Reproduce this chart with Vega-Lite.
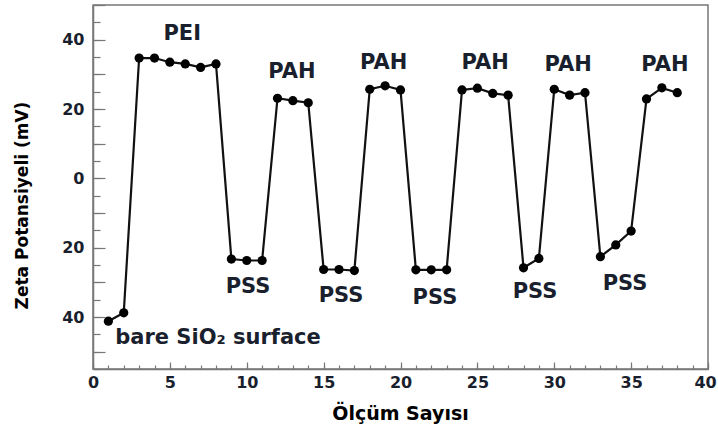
{
  "$schema": "https://vega.github.io/schema/vega-lite/v6.json",
  "width": 615,
  "height": 364,
  "autosize": {"type": "none"},
  "padding": {"left": 93, "top": 5, "right": 10, "bottom": 63},
  "background": "white",
  "config": {
    "view": {"stroke": "#777777", "strokeWidth": 1.5},
    "axis": {
      "grid": false,
      "domainColor": "#777777",
      "domainWidth": 1.5,
      "tickColor": "#777777",
      "tickWidth": 1.2,
      "labelFont": "DejaVu Sans",
      "labelFontWeight": "bold",
      "labelFontSize": 16,
      "labelColor": "#1a1f2e",
      "labelOverlap": false,
      "labelFlush": false,
      "labelBound": false,
      "titleFont": "DejaVu Sans",
      "titleFontWeight": "bold",
      "titleColor": "#000000"
    }
  },
  "datasets": {
    "zeta": [
      {"n": 1, "zeta": -41.2}, {"n": 2, "zeta": -38.8}, {"n": 3, "zeta": 34.7},
      {"n": 4, "zeta": 34.7}, {"n": 5, "zeta": 33.5}, {"n": 6, "zeta": 33.0},
      {"n": 7, "zeta": 32.0}, {"n": 8, "zeta": 33.0}, {"n": 9, "zeta": -23.3},
      {"n": 10, "zeta": -23.7}, {"n": 11, "zeta": -23.7}, {"n": 12, "zeta": 23.1},
      {"n": 13, "zeta": 22.4}, {"n": 14, "zeta": 21.8}, {"n": 15, "zeta": -26.3},
      {"n": 16, "zeta": -26.3}, {"n": 17, "zeta": -26.6}, {"n": 18, "zeta": 25.7},
      {"n": 19, "zeta": 26.7}, {"n": 20, "zeta": 25.5}, {"n": 21, "zeta": -26.4},
      {"n": 22, "zeta": -26.4}, {"n": 23, "zeta": -26.4}, {"n": 24, "zeta": 25.5},
      {"n": 25, "zeta": 26.0}, {"n": 26, "zeta": 24.5}, {"n": 27, "zeta": 24.0},
      {"n": 28, "zeta": -25.8}, {"n": 29, "zeta": -23.1}, {"n": 30, "zeta": 25.7},
      {"n": 31, "zeta": 24.0}, {"n": 32, "zeta": 24.7}, {"n": 33, "zeta": -22.6},
      {"n": 34, "zeta": -19.2}, {"n": 35, "zeta": -15.2}, {"n": 36, "zeta": 22.9},
      {"n": 37, "zeta": 26.1}, {"n": 38, "zeta": 24.7}
    ],
    "notes": [
      {"x": 5.8, "y": 41.6, "label": "PEI"},
      {"x": 12.94, "y": 30.7, "label": "PAH"},
      {"x": 18.9, "y": 33.3, "label": "PAH"},
      {"x": 25.5, "y": 33.3, "label": "PAH"},
      {"x": 30.9, "y": 32.7, "label": "PAH"},
      {"x": 37.2, "y": 32.7, "label": "PAH"},
      {"x": 10.08, "y": -31.3, "label": "PSS"},
      {"x": 16.13, "y": -33.9, "label": "PSS"},
      {"x": 22.24, "y": -34.5, "label": "PSS"},
      {"x": 28.75, "y": -32.8, "label": "PSS"},
      {"x": 34.6, "y": -30.5, "label": "PSS"},
      {"x": 8.13, "y": -46.05, "label": "bare SiO₂  surface"}
    ]
  },
  "resolve": {"axis": {"x": "independent", "y": "independent"}},
  "layer": [
    {
      "data": {"name": "zeta"},
      "mark": {"type": "line", "color": "#111111", "strokeWidth": 2.2},
      "encoding": {
        "x": {
          "field": "n",
          "type": "quantitative",
          "scale": {"domain": [0, 40], "nice": false},
          "axis": {
            "orient": "bottom",
            "values": [0, 5, 10, 15, 20, 25, 30, 35, 40],
            "tickSize": -7,
            "labelPadding": 12,
            "labelOverlap": false,
            "labelOffset": {"condition": {"test": "datum.value === 40", "value": -3}, "value": 0},
            "title": "Ölçüm Sayısı",
            "titleFontSize": 19,
            "titleX": 307,
            "titleY": 44,
            "titleBaseline": "middle"
          }
        },
        "y": {
          "field": "zeta",
          "type": "quantitative",
          "scale": {"domain": [-55, 50], "nice": false, "zero": false},
          "axis": {
            "orient": "left",
            "values": [-50, -40, -30, -20, -10, 0, 10, 20, 30, 40, 50],
            "labelExpr": "datum.value % 20 === 0 ? format(abs(datum.value), 'd') : ''",
            "labelOverlap": false,
            "tickSize": -12,
            "labelPadding": 21,
            "title": "Zeta Potansiyeli (mV)",
            "titleFontSize": 17,
            "titleAngle": -90,
            "titleX": -71,
            "titleY": 200,
            "titleBaseline": "middle"
          }
        }
      }
    },
    {
      "data": {"name": "zeta"},
      "mark": {"type": "circle", "color": "#000000", "size": 85, "opacity": 1},
      "encoding": {
        "x": {
          "field": "n",
          "type": "quantitative",
          "scale": {"domain": [0, 40], "nice": false},
          "axis": {
            "orient": "bottom",
            "values": [0,1,2,3,4,5,6,7,8,9,10,11,12,13,14,15,16,17,18,19,20,21,22,23,24,25,26,27,28,29,30,31,32,33,34,35,36,37,38,39,40],
            "tickSize": -4,
            "labels": false,
            "domain": false,
            "title": null
          }
        },
        "y": {
          "field": "zeta",
          "type": "quantitative",
          "scale": {"domain": [-55, 50], "nice": false, "zero": false},
          "axis": {
            "orient": "left",
            "values": [-55,-50,-45,-40,-35,-30,-25,-20,-15,-10,-5,0,5,10,15,20,25,30,35,40,45,50],
            "tickSize": -7,
            "labels": false,
            "domain": false,
            "title": null
          }
        }
      }
    },
    {
      "data": {"name": "notes"},
      "mark": {"type": "text", "font": "DejaVu Sans", "fontWeight": "bold", "fontSize": 21, "color": "#1a1f2e", "align": "center", "baseline": "middle"},
      "encoding": {
        "x": {"field": "x", "type": "quantitative", "axis": null},
        "y": {"field": "y", "type": "quantitative", "axis": null},
        "text": {"field": "label"}
      }
    }
  ]
}
